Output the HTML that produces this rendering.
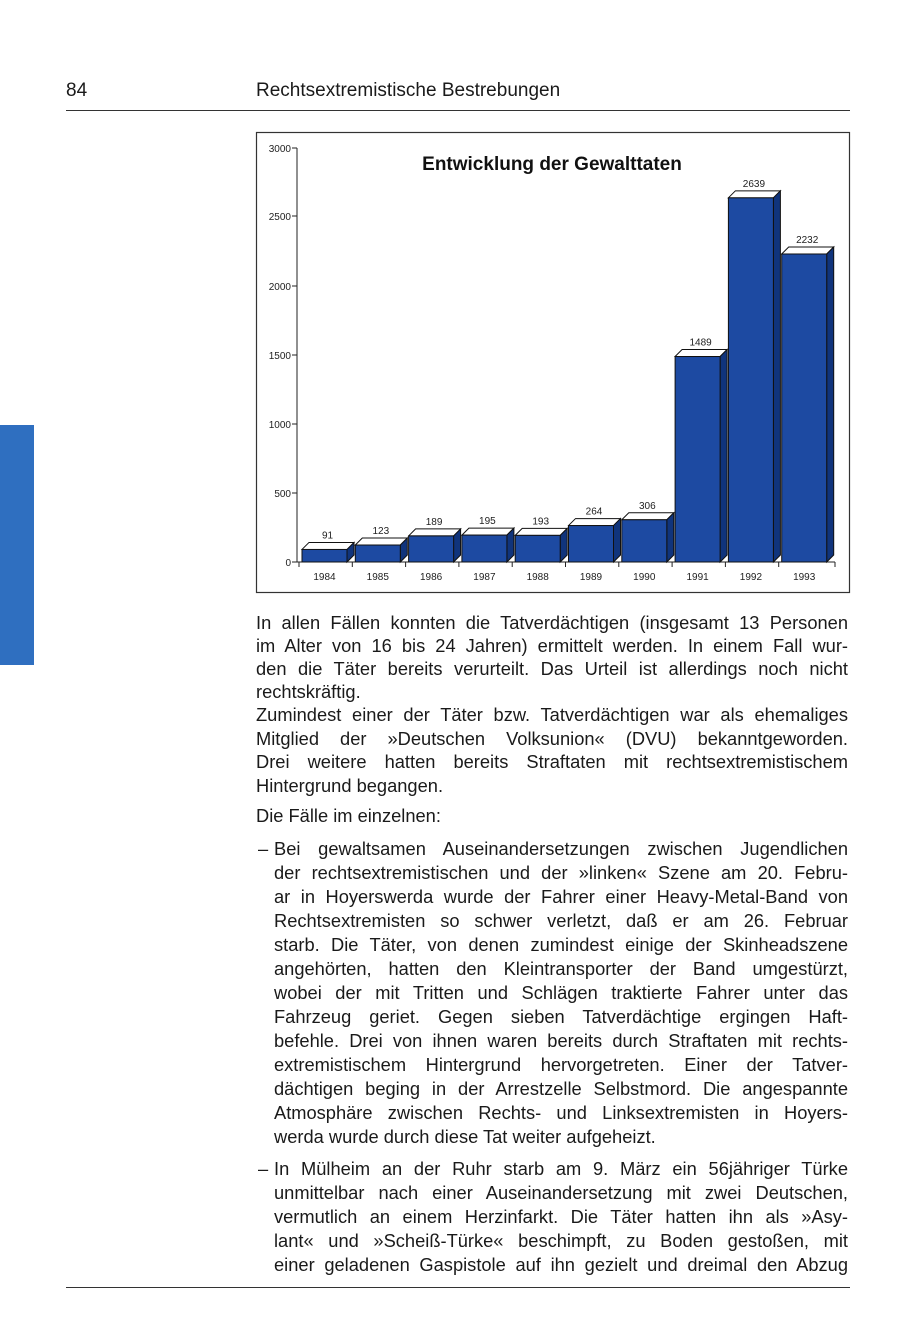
<!DOCTYPE html>
<html><head><meta charset="utf-8"><style>
body{margin:0;background:#fff;width:900px;height:1328px;position:relative;overflow:hidden;font-family:"Liberation Sans",sans-serif;color:#1a1a1a}
.l{position:absolute;left:256px;width:592px;font-size:18.3px;line-height:24px;white-space:nowrap;text-align:justify;text-align-last:justify}
.l.e{text-align-last:left}
.i{left:274px;width:574px}
.d{position:absolute;left:258px;font-size:18.3px;line-height:24px}
</style></head><body>
<div style="position:absolute;left:0;top:425px;width:34px;height:240px;background:#2f6fc0"></div>
<div style="position:absolute;left:66px;top:80px;font-size:19px">84</div>
<div style="position:absolute;left:256px;top:80px;font-size:19px">Rechtsextremistische Bestrebungen</div>
<div style="position:absolute;left:66px;top:110px;width:784px;height:1px;background:#333"></div>
<div style="position:absolute;left:66px;top:1287px;width:784px;height:1px;background:#333"></div>
<svg style="position:absolute;left:0;top:0" width="900" height="620" font-family="Liberation Sans, sans-serif">
<rect x="256.5" y="132.5" width="593" height="460" fill="none" stroke="#333" stroke-width="1.2"/>
<text x="552" y="170" font-size="19" font-weight="bold" text-anchor="middle" fill="#111">Entwicklung der Gewalttaten</text>
<g font-size="10" text-anchor="end" fill="#222">
<text x="291" y="152">3000</text><text x="291" y="220">2500</text><text x="291" y="290">2000</text><text x="291" y="359">1500</text><text x="291" y="428">1000</text><text x="291" y="497">500</text><text x="291" y="566">0</text>
</g>
<g stroke="#222" stroke-width="1">
<line x1="297" y1="148" x2="297" y2="562"/>
<line x1="292" y1="148" x2="297" y2="148"/><line x1="292" y1="216" x2="297" y2="216"/><line x1="292" y1="286" x2="297" y2="286"/><line x1="292" y1="355" x2="297" y2="355"/><line x1="292" y1="424" x2="297" y2="424"/><line x1="292" y1="493" x2="297" y2="493"/>
<line x1="292" y1="562" x2="835" y2="562"/>
</g>
<g id="bars"></g>
</svg>
<script>
var v=[91,123,189,195,193,264,306,1489,2639,2232],y=[1984,1985,1986,1987,1988,1989,1990,1991,1992,1993],s="";
for(var k=0;k<10;k++){var x=302+53.3*k,w=45,d=7,h=v[k]*0.138,t=562-h;
s+='<polygon points="'+x+','+t+' '+(x+d)+','+(t-d)+' '+(x+w+d)+','+(t-d)+' '+(x+w)+','+t+'" fill="#fff" stroke="#111" stroke-width="1"/>';
s+='<polygon points="'+(x+w)+','+t+' '+(x+w+d)+','+(t-d)+' '+(x+w+d)+','+(562-d)+' '+(x+w)+',562" fill="#10347c" stroke="#111" stroke-width="1"/>';
s+='<rect x="'+x+'" y="'+t+'" width="'+w+'" height="'+h+'" fill="#1d4aa2" stroke="#111" stroke-width="1"/>';
s+='<text x="'+(x+w/2+3)+'" y="'+(t-d-4)+'" font-size="10" text-anchor="middle" fill="#222">'+v[k]+'</text>';
s+='<text x="'+(x+w/2)+'" y="580" font-size="10" text-anchor="middle" fill="#222">'+y[k]+'</text>';
s+='<line x1="'+(x-3)+'" y1="562" x2="'+(x-3)+'" y2="567" stroke="#222"/>';}
s+='<line x1="835" y1="562" x2="835" y2="567" stroke="#222"/>';
document.getElementById("bars").innerHTML=s;
</script>
<div class="l" style="top:611px">In allen Fällen konnten die Tatverdächtigen (insgesamt 13 Personen</div>
<div class="l" style="top:634px">im Alter von 16 bis 24 Jahren) ermittelt werden. In einem Fall wur-</div>
<div class="l" style="top:657px">den die Täter bereits verurteilt. Das Urteil ist allerdings noch nicht</div>
<div class="l e" style="top:680px">rechtskräftig.</div>
<div class="l" style="top:703px">Zumindest einer der Täter bzw. Tatverdächtigen war als ehemaliges</div>
<div class="l" style="top:727px">Mitglied der »Deutschen Volksunion« (DVU) bekanntgeworden.</div>
<div class="l" style="top:750px">Drei weitere hatten bereits Straftaten mit rechtsextremistischem</div>
<div class="l e" style="top:774px">Hintergrund begangen.</div>
<div class="l e" style="top:804px">Die Fälle im einzelnen:</div>
<div class="d" style="top:837px">–</div>
<div class="l i" style="top:837px">Bei gewaltsamen Auseinandersetzungen zwischen Jugendlichen</div>
<div class="l i" style="top:861px">der rechtsextremistischen und der »linken« Szene am 20. Febru-</div>
<div class="l i" style="top:885px">ar in Hoyerswerda wurde der Fahrer einer Heavy-Metal-Band von</div>
<div class="l i" style="top:909px">Rechtsextremisten so schwer verletzt, daß er am 26. Februar</div>
<div class="l i" style="top:933px">starb. Die Täter, von denen zumindest einige der Skinheadszene</div>
<div class="l i" style="top:957px">angehörten, hatten den Kleintransporter der Band umgestürzt,</div>
<div class="l i" style="top:981px">wobei der mit Tritten und Schlägen traktierte Fahrer unter das</div>
<div class="l i" style="top:1005px">Fahrzeug geriet. Gegen sieben Tatverdächtige ergingen Haft-</div>
<div class="l i" style="top:1029px">befehle. Drei von ihnen waren bereits durch Straftaten mit rechts-</div>
<div class="l i" style="top:1053px">extremistischem Hintergrund hervorgetreten. Einer der Tatver-</div>
<div class="l i" style="top:1077px">dächtigen beging in der Arrestzelle Selbstmord. Die angespannte</div>
<div class="l i" style="top:1101px">Atmosphäre zwischen Rechts- und Linksextremisten in Hoyers-</div>
<div class="l i e" style="top:1125px">werda wurde durch diese Tat weiter aufgeheizt.</div>
<div class="d" style="top:1157px">–</div>
<div class="l i" style="top:1157px">In Mülheim an der Ruhr starb am 9. März ein 56jähriger Türke</div>
<div class="l i" style="top:1181px">unmittelbar nach einer Auseinandersetzung mit zwei Deutschen,</div>
<div class="l i" style="top:1205px">vermutlich an einem Herzinfarkt. Die Täter hatten ihn als »Asy-</div>
<div class="l i" style="top:1229px">lant« und »Scheiß-Türke« beschimpft, zu Boden gestoßen, mit</div>
<div class="l i" style="top:1253px">einer geladenen Gaspistole auf ihn gezielt und dreimal den Abzug</div>
</body></html>
